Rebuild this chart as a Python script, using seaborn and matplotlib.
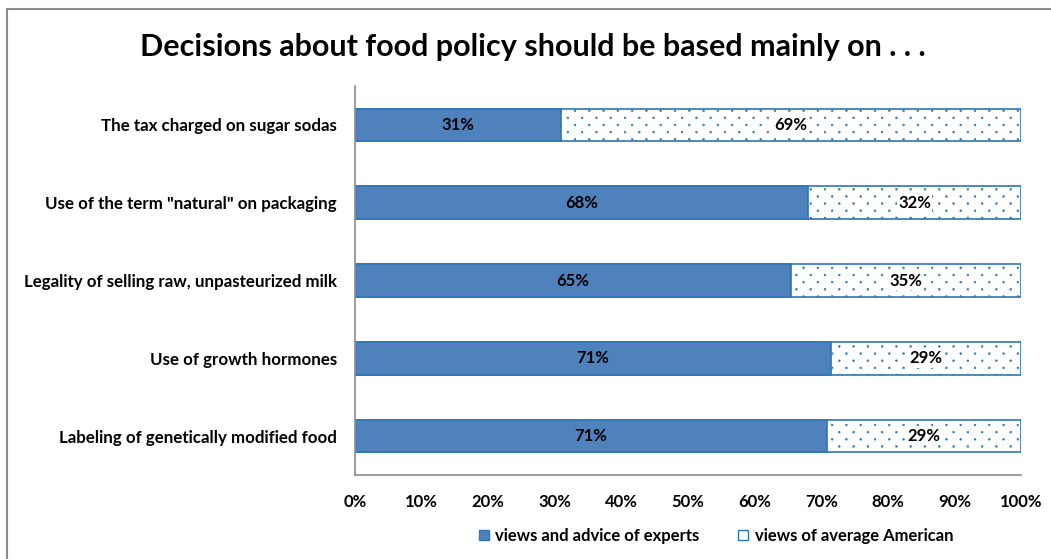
import numpy as np
import pandas as pd
import matplotlib.pyplot as plt
import matplotlib.hatch as mhatch
from matplotlib.path import Path
import seaborn as sns
from matplotlib.patches import Patch, Rectangle

# datos
categorias = ['The tax charged on sugar sodas',
              'Use of the term "natural" on packaging',
              'Legality of selling raw, unpasteurized milk',
              'Use of growth hormones',
              'Labeling of genetically modified food']
expertos = [30.9, 68.0, 65.4, 71.4, 70.8]
promedio = [69.1, 32.0, 34.6, 28.6, 29.2]
serie_nombres = ['views and advice of experts', 'views of average American']
x_ticks = [0, 10, 20, 30, 40, 50, 60, 70, 80, 90, 100]


# trama de puntos pequeños y escalonados (como la de Excel)
class PuntosPequenos(mhatch.HatchPatternBase):
    radio = 0.009

    def __init__(self, hatch, density):
        self.cols = 7 * hatch.count('.')
        self.filas = 2 * self.cols
        circ = Path.unit_circle()
        self.v_circ = circ.vertices
        self.c_circ = circ.codes
        self.num_vertices = len(self.v_circ) * self.cols * self.filas

    def set_vertices_and_codes(self, vertices, codes):
        partes_v, partes_c = [], []
        for k in range(self.filas):
            y = (k + 0.5) / self.filas
            for j in range(self.cols):
                x = (j + 0.25 + 0.5 * (k % 2)) / self.cols
                partes_v.append(self.v_circ * self.radio + [x, y])
                partes_c.append(self.c_circ)
        np.concatenate(partes_v, out=vertices)
        np.concatenate(partes_c, out=codes)


mhatch._hatch_types[mhatch._hatch_types.index(mhatch.SmallFilledCircles)] = PuntosPequenos

df = pd.DataFrame({'categoria': categorias, 'expertos': expertos, 'promedio': promedio})
df['total'] = df['expertos'] + df['promedio']

sns.set_style('white')
plt.rcParams['font.family'] = ['Lato', 'DejaVu Sans']
plt.rcParams['text.color'] = 'black'
plt.rcParams['xtick.labelcolor'] = 'black'
plt.rcParams['ytick.labelcolor'] = 'black'
plt.rcParams['hatch.color'] = '#5B8BD0'
plt.rcParams['hatch.linewidth'] = 0.4

azul = '#4F81BD'
borde = '#2E75B6'
gris = '#8C8C8C'

fig = plt.figure(figsize=(10.51, 5.59), dpi=100)
fig.patches.append(Rectangle((7 / 1051, -0.05), 1.1, (559 - 9) / 559 + 0.05, transform=fig.transFigure,
                             fill=False, edgecolor=gris, linewidth=1.5))
ax = fig.add_axes([355 / 1051, 1 - 475 / 559, 666 / 1051, 389 / 559])

# barra total (blanca con puntos) y encima la de expertos
sns.barplot(data=df, y='categoria', x='total', orient='h', color='white', width=0.42,
            edgecolor=borde, linewidth=1.2, hatch='.', ax=ax)
sns.barplot(data=df, y='categoria', x='expertos', orient='h', color=azul, saturation=1, width=0.42,
            edgecolor=borde, linewidth=1.2, ax=ax)

for i, (e, p) in enumerate(zip(expertos, promedio)):
    ax.text(e / 2, i, f'{round(e)}%', ha='center', va='center', fontsize=12, fontweight='bold')
    ax.text(e + p / 2, i, f'{round(p)}%', ha='center', va='center', fontsize=12, fontweight='bold',
            bbox=dict(facecolor='white', edgecolor='none', pad=1))

ax.set_xlim(0, 100)
ax.set_ylim(4.5, -0.5)
ax.set_xticks(x_ticks)
ax.set_xticklabels([f'{t}%' for t in x_ticks], fontsize=12, fontweight='bold')
ax.set_yticks(range(len(categorias)))
ax.set_yticklabels(categorias, fontsize=12.2, fontweight='bold')
ax.set_yticks([i - 0.5 for i in range(len(categorias) + 1)], minor=True)
ax.tick_params(axis='y', which='major', length=0, pad=13)
ax.tick_params(axis='y', which='minor', length=5, color=gris, direction='out')
ax.tick_params(axis='x', length=5, color=gris, direction='out', pad=9)
ax.set_xlabel('')
ax.set_ylabel('')
sns.despine(ax=ax, top=True, right=True)
for s in ['left', 'bottom']:
    ax.spines[s].set_color(gris)
    ax.spines[s].set_linewidth(1.2)

fig.text(533 / 1051, 1 - 47 / 559, 'Decisions about food policy should be based mainly on . . .',
         ha='center', va='center', fontsize=22, fontweight='bold')

handles = [Patch(facecolor=azul, edgecolor=borde, label=serie_nombres[0]),
           Patch(facecolor='white', edgecolor=borde, label=serie_nombres[1])]
fig.legend(handles=handles, loc='center', bbox_to_anchor=(716 / 1051, 1 - 536 / 559), ncol=2,
           frameon=False, prop={'size': 12, 'weight': 'bold'}, handlelength=0.6, handleheight=0.6,
           handletextpad=0.4, columnspacing=2.3, borderpad=0)

fig.savefig('out.png', dpi=100)
